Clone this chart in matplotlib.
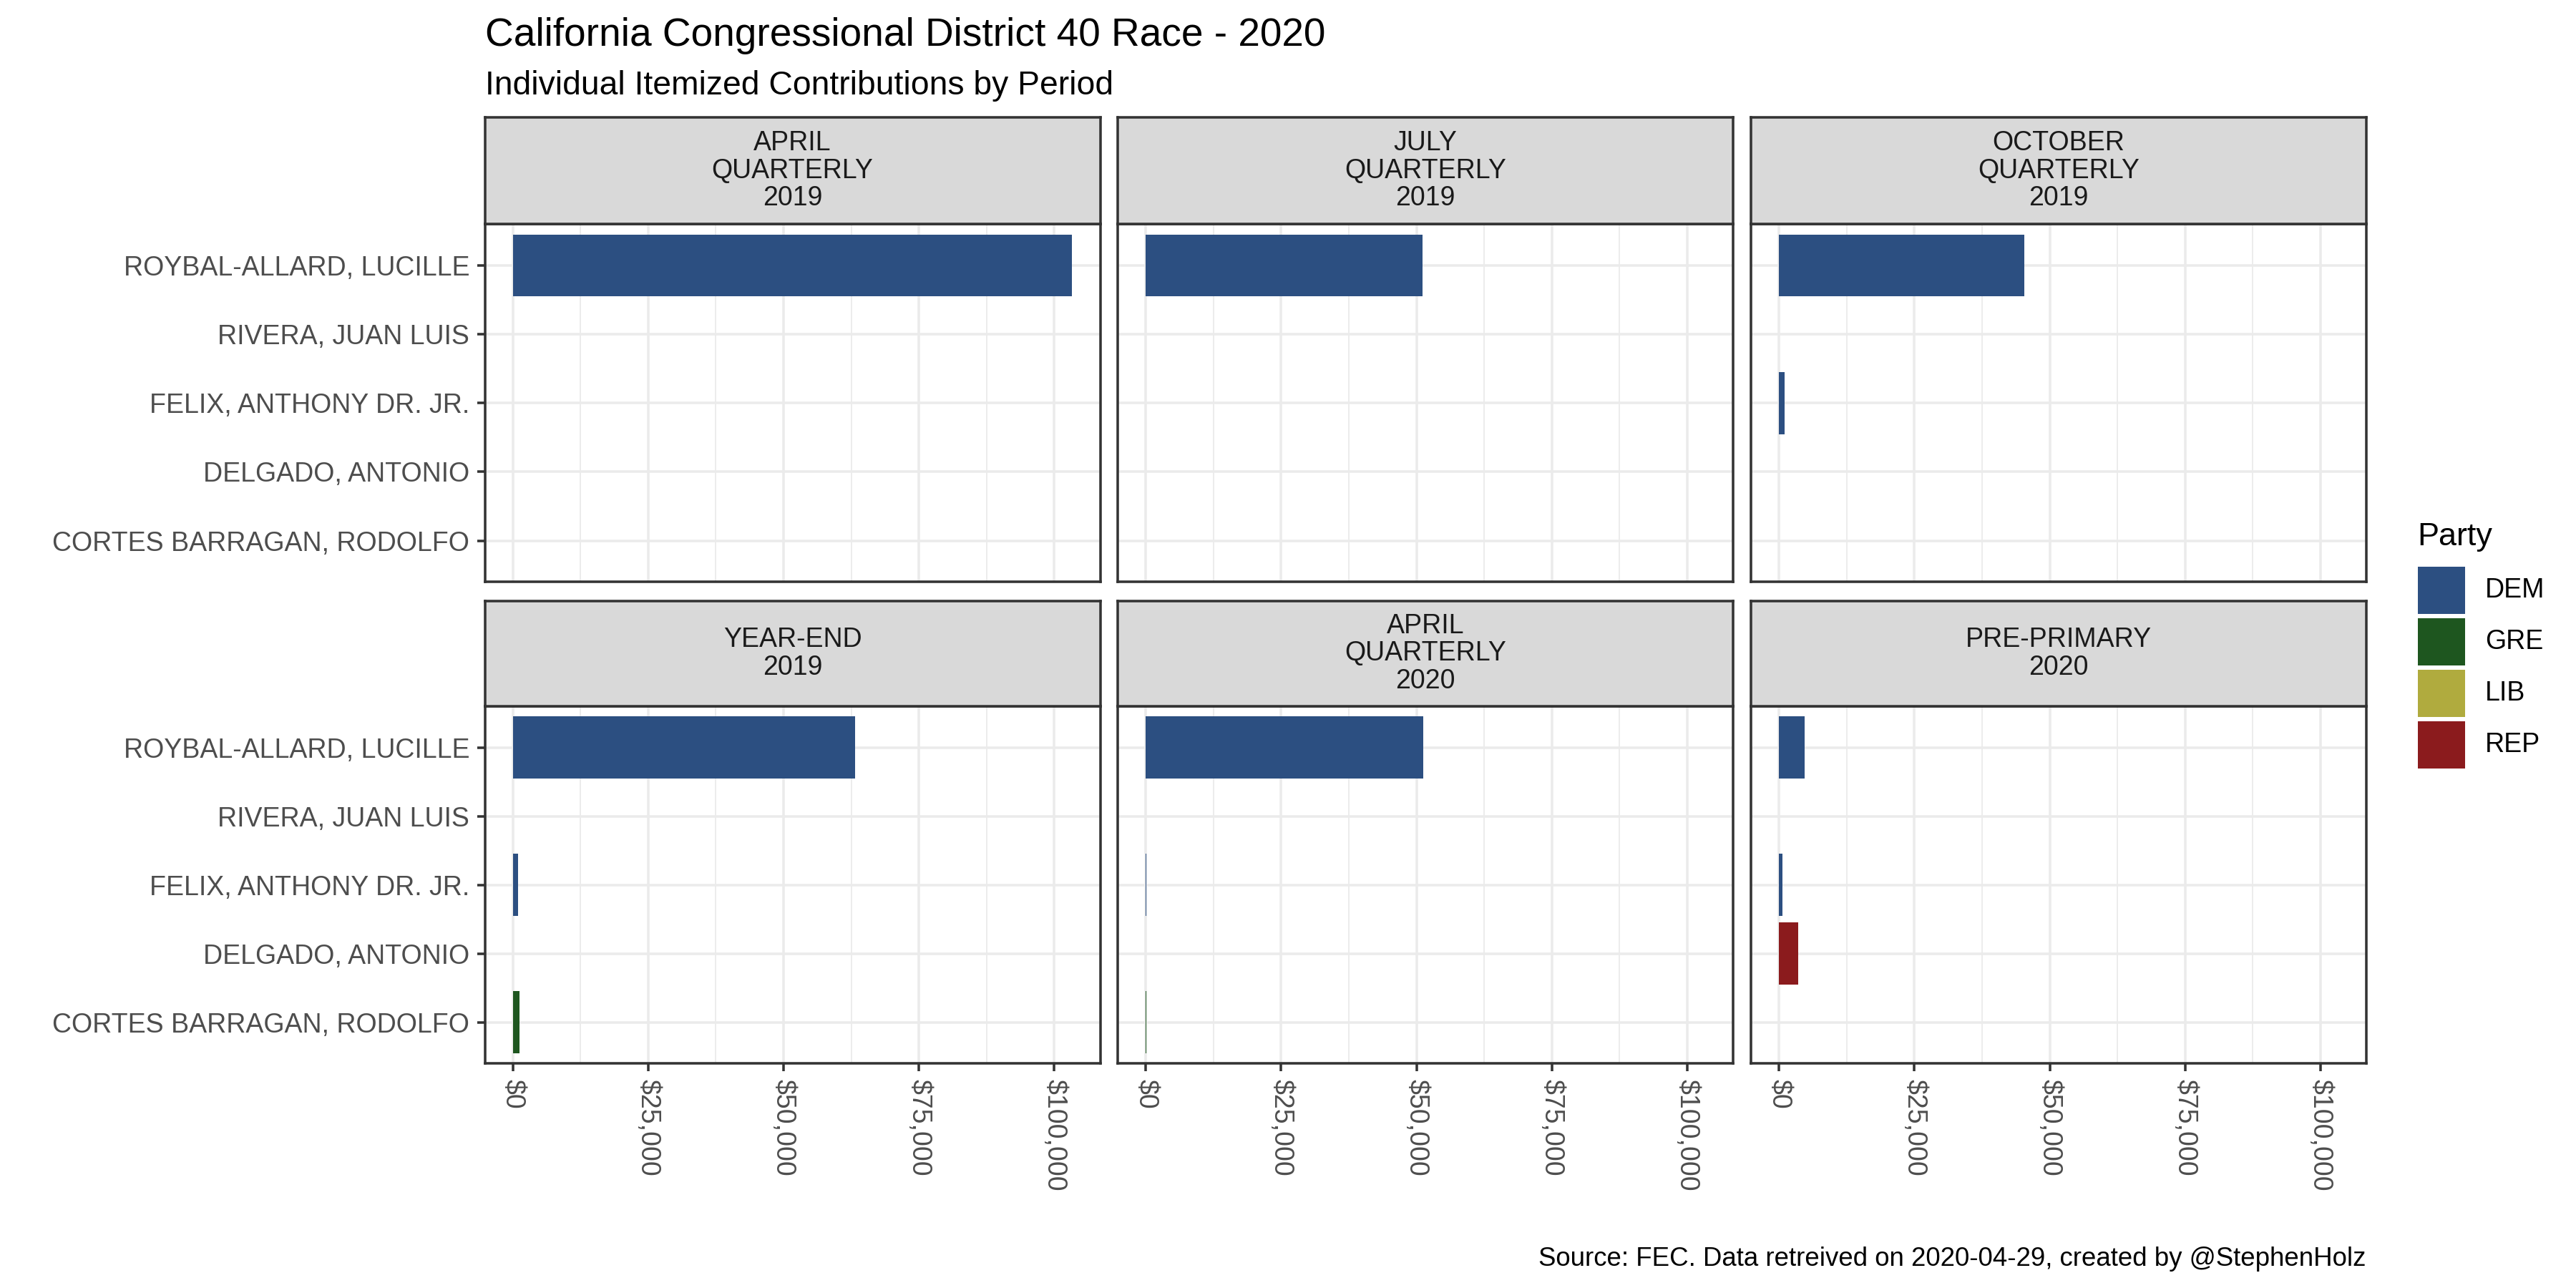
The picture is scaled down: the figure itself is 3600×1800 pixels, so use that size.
import matplotlib
matplotlib.use("Agg")
import matplotlib.pyplot as plt
from matplotlib.patches import Rectangle
from matplotlib.ticker import FuncFormatter, MultipleLocator

plt.rcParams['font.family'] = ['Liberation Sans', 'DejaVu Sans']

# candidates, top to bottom
candidates = ["ROYBAL-ALLARD, LUCILLE", "RIVERA, JUAN LUIS", "FELIX, ANTHONY DR. JR.",
              "DELGADO, ANTONIO", "CORTES BARRAGAN, RODOLFO"]
candidate_party = ["DEM", "LIB", "DEM", "REP", "GRE"]

periods = ["APRIL\nQUARTERLY\n2019", "JULY\nQUARTERLY\n2019", "OCTOBER\nQUARTERLY\n2019",
           "YEAR-END\n2019", "APRIL\nQUARTERLY\n2020", "PRE-PRIMARY\n2020"]

# itemized individual contributions ($), same order as candidates
april_2019 = [103300, 0, 0, 0, 0]
july_2019 = [51100, 0, 0, 0, 0]
october_2019 = [45300, 0, 1000, 0, 0]
year_end_2019 = [63200, 0, 1000, 0, 1200]
april_2020 = [51200, 0, 150, 0, 80]
pre_primary_2020 = [4800, 0, 700, 3600, 0]
period_values = [april_2019, july_2019, october_2019, year_end_2019, april_2020, pre_primary_2020]

party_names = ["DEM", "GRE", "LIB", "REP"]
party_colors = ["#2c4f81", "#1e561f", "#b0ab3e", "#8b1b1d"]
color_of = dict(zip(party_names, party_colors))

W, H = 3600, 1800
fig = plt.figure(figsize=(12, 6), dpi=300)


def box(left, top, width, height):
    return [left / W, 1 - (top + height) / H, width / W, height / H]


col_left = [677.5, 1562, 2447]
panel_w = 860
rows = [(164, 313.2, 813.3), (840, 986.9, 1486.3)]  # strip top, panel top, panel bottom
border = "#333333"
lw_border = 0.85
text_size = 9.0

xmax = max(max(v) for v in period_values)
pad = 0.05 * xmax
money = FuncFormatter(lambda v, p: f"${v:,.0f}")
ypos = list(range(len(candidates), 0, -1))

for i, (label, values) in enumerate(zip(periods, period_values)):
    r, c = divmod(i, 3)
    strip_top, ptop, pbottom = rows[r]
    ax = fig.add_axes(box(col_left[c], ptop, panel_w, pbottom - ptop))
    ax.barh(ypos, values, height=0.9,
            color=[color_of[p] for p in candidate_party], linewidth=0, zorder=3)
    ax.set_xlim(-pad, xmax + pad)
    ax.set_ylim(0.4, len(candidates) + 0.6)
    ax.xaxis.set_major_locator(MultipleLocator(25000))
    ax.xaxis.set_minor_locator(MultipleLocator(12500))
    ax.xaxis.set_major_formatter(money)
    ax.set_yticks(ypos)
    ax.set_yticklabels(candidates)
    ax.set_axisbelow(True)
    ax.grid(which="major", color="#EBEBEB", lw=0.85, zorder=0)
    ax.grid(which="minor", axis="x", color="#EBEBEB", lw=0.45, zorder=0)
    for s in ax.spines.values():
        s.set_color(border)
        s.set_linewidth(lw_border)
        s.set_zorder(5)
    ax.tick_params(which="minor", length=0)
    ax.tick_params(which="major", length=2.7, width=0.85, color=border,
                   labelcolor="#4D4D4D", labelsize=text_size, pad=2.4)
    if c != 0:
        ax.tick_params(axis="y", length=0, labelleft=False)
    if r == 0:
        ax.tick_params(axis="x", length=0, labelbottom=False)
    else:
        for t in ax.get_xticklabels():
            t.set_rotation(270)
            t.set_ha("center")
            t.set_va("top")

    sax = fig.add_axes(box(col_left[c], strip_top, panel_w, ptop - strip_top))
    sax.set_facecolor("#D9D9D9")
    sax.set_xticks([])
    sax.set_yticks([])
    for s in sax.spines.values():
        s.set_color(border)
        s.set_linewidth(lw_border)
    sax.text(0.5, 0.5, label, ha="center", va="center", fontsize=text_size,
             color="#1A1A1A", linespacing=1.08, transform=sax.transAxes)

# titles and caption
fig.text(677.5 / W, 1 - 64 / H, "California Congressional District 40 Race - 2020",
         fontsize=13.2, va="baseline", ha="left", color="black")
fig.text(677.5 / W, 1 - 131.7 / H, "Individual Itemized Contributions by Period",
         fontsize=11.1, va="baseline", ha="left", color="black")
fig.text(3307 / W, 1 - 1769 / H,
         "Source: FEC. Data retreived on 2020-04-29, created by @StephenHolz",
         fontsize=8.8, va="baseline", ha="right", color="black")

# legend
lax = fig.add_axes([0, 0, 1, 1])
lax.set_xlim(0, W)
lax.set_ylim(H, 0)
lax.axis("off")
lax.text(3378, 762, "Party", fontsize=10.8, va="baseline", ha="left")
for k, (name, col) in enumerate(zip(party_names, party_colors)):
    y0 = 792 + k * 72
    lax.add_patch(Rectangle((3379, y0), 66, 66, facecolor=col, edgecolor="none"))
    lax.text(3473, y0 + 33, name, fontsize=text_size, va="center", ha="left")

fig.savefig("out.png", dpi=300)
